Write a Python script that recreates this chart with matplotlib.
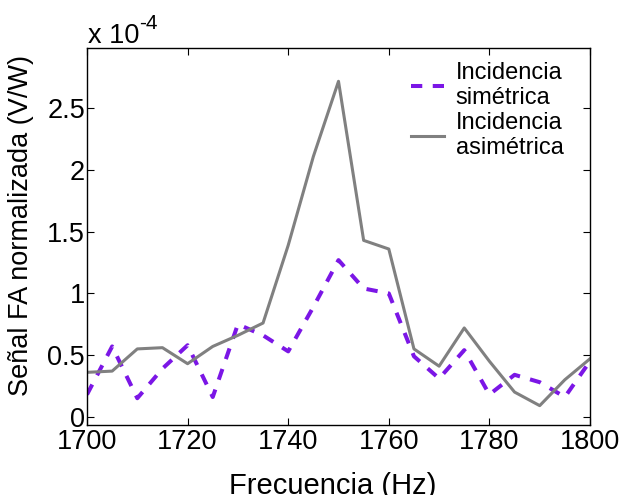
import numpy as np
import matplotlib.pyplot as plt

# frequencies (Hz) and normalised PA signal (x 1e-4 V/W)
freq = [1700, 1705, 1710, 1715, 1720, 1725, 1730, 1735, 1740, 1745, 1750,
        1755, 1760, 1765, 1770, 1775, 1780, 1785, 1790, 1795, 1800]
sim = [0.18, 0.57, 0.15, 0.39, 0.58, 0.16, 0.75, 0.66, 0.53, 0.89, 1.27,
       1.04, 1.00, 0.49, 0.31, 0.54, 0.18, 0.34, 0.28, 0.16, 0.45]
asim = [0.36, 0.37, 0.55, 0.56, 0.43, 0.57, 0.66, 0.76, 1.39, 2.11, 2.72,
        1.43, 1.36, 0.55, 0.41, 0.72, 0.45, 0.20, 0.09, 0.30, 0.47]
xticks = [1700, 1720, 1740, 1760, 1780, 1800]
yticks = [0, 0.5, 1, 1.5, 2, 2.5]

plt.rcParams['font.family'] = ['Liberation Sans', 'DejaVu Sans']

fig = plt.figure(figsize=(6.23, 4.95), dpi=100)
ax = fig.add_axes([87/623, 70/495, 503/623, 377/495])

scale = 1e-4
ax.plot(freq, np.array(sim) * scale, color='#7b16e6', lw=2.9, dashes=(2.8, 2.6),
        label='Incidencia\nsimétrica')
ax.plot(freq, np.array(asim) * scale, color='#808080', lw=2.2,
        label='Incidencia\nasimétrica')

ax.set_xlim(1700, 1800)
ax.set_ylim(-0.067 * scale, 2.99 * scale)
ax.set_xticks(xticks)
ax.set_xticklabels([str(t) for t in xticks])
ax.set_yticks(np.array(yticks) * scale)
ax.set_yticklabels(['0', '0.5', '1', '1.5', '2', '2.5'])
ax.tick_params(direction='in', top=True, right=True, length=5, width=0.8,
               labelsize=19.5)
ax.tick_params(axis='y', pad=1.5)
ax.tick_params(axis='x', pad=3)
for s in ax.spines.values():
    s.set_linewidth(1.0)

fig.text(333/623, 1/495, 'Frecuencia (Hz)', fontsize=21, ha='center',
         va='baseline')
fig.text(8/623, (495 - 226)/495, 'Señal FA normalizada (V/W)', fontsize=19.5,
         rotation=90, ha='left', va='center')
# multiplier above the axes, MATLAB style
fig.text(88/623, (495 - 43)/495, 'x 10', fontsize=19.5, ha='left',
         va='baseline')
fig.text(139/623, (495 - 29)/495, '-4', fontsize=15, ha='left',
         va='baseline')

ax.legend(loc='upper left', bbox_to_anchor=(411/623, 1 - 62/495),
          bbox_transform=fig.transFigure, frameon=False, fontsize=17,
          handlelength=1.4, handletextpad=0.5, labelspacing=0.1,
          borderaxespad=0, borderpad=0)

fig.savefig('out.png', dpi=100)
